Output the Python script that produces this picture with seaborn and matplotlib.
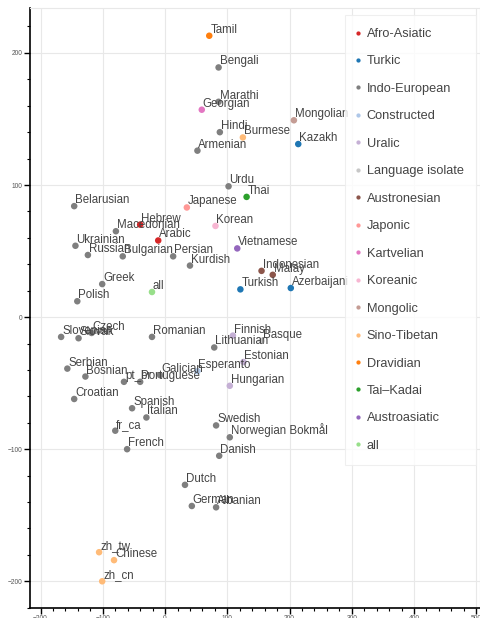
import matplotlib
matplotlib.use('Agg')
import matplotlib.pyplot as plt
import pandas as pd
import seaborn as sns

# Data
names = [
  'Tamil', 'Bengali', 'Marathi', 'Georgian', 'Hindi', 'Armenian', 'Burmese',
  'Mongolian', 'Kazakh', 'Urdu', 'Thai', 'Japanese', 'Korean', 'Vietnamese',
  'Kurdish', 'Indonesian', 'Malay', 'Turkish', 'Azerbaijani', 'Belarusian',
  'Macedonian', 'Hebrew', 'Arabic', 'Ukrainian', 'Russian', 'Bulgarian',
  'Persian', 'Greek', 'all', 'Polish', 'Slovenian', 'Slovak', 'Czech',
  'Romanian', 'Lithuanian', 'Finnish', 'Basque', 'Estonian', 'Esperanto',
  'Galician', 'pt_br', 'Portuguese', 'Hungarian', 'Serbian', 'Bosnian',
  'Croatian', 'Spanish', 'Italian', 'fr_ca', 'French', 'Swedish',
  'Norwegian Bokmål', 'Danish', 'Dutch', 'German', 'Albanian', 'zh_tw',
  'Chinese', 'zh_cn'
]
x_vals = [
  71, 86, 86, 59, 88, 52, 125, 207, 214, 102, 131, 35, 81, 116, 40, 155, 173,
  121, 202, -146, -79, -40, -11, -144, -124, -68, 13, -101, -21, -141, -167,
  -139, -118, -21, 79, 109, 155, 126, 52, -8, -66, -40, 104, -157, -128, -146,
  -53, -30, -80, -61, 82, 104, 87, 32, 43, 82, -106, -82, -101
]
y_vals = [
  213, 189, 163, 157, 140, 126, 136, 149, 131, 99, 91, 83, 69, 52, 39, 35, 32,
  21, 22, 84, 65, 70, 58, 54, 47, 46, 46, 25, 19, 12, -15, -16, -12, -15, -23,
  -14, -18, -34, -41, -44, -49, -49, -52, -39, -45, -62, -69, -76, -86, -100,
  -82, -91, -105, -127, -143, -144, -178, -184, -200
]
families = [
  'Dravidian', 'Indo-European', 'Indo-European', 'Kartvelian',
  'Indo-European', 'Indo-European', 'Sino-Tibetan', 'Mongolic', 'Turkic',
  'Indo-European', 'Tai–Kadai', 'Japonic', 'Koreanic', 'Austroasiatic',
  'Indo-European', 'Austronesian', 'Austronesian', 'Turkic', 'Turkic',
  'Indo-European', 'Indo-European', 'Afro-Asiatic', 'Afro-Asiatic',
  'Indo-European', 'Indo-European', 'Indo-European', 'Indo-European',
  'Indo-European', 'all', 'Indo-European', 'Indo-European', 'Indo-European',
  'Indo-European', 'Indo-European', 'Indo-European', 'Uralic',
  'Language isolate', 'Uralic', 'Constructed', 'Indo-European',
  'Indo-European', 'Indo-European', 'Uralic', 'Indo-European',
  'Indo-European', 'Indo-European', 'Indo-European', 'Indo-European',
  'Indo-European', 'Indo-European', 'Indo-European', 'Indo-European',
  'Indo-European', 'Indo-European', 'Indo-European', 'Indo-European',
  'Sino-Tibetan', 'Sino-Tibetan', 'Sino-Tibetan'
]
family_order = [
  'Afro-Asiatic', 'Turkic', 'Indo-European', 'Constructed', 'Uralic',
  'Language isolate', 'Austronesian', 'Japonic', 'Kartvelian', 'Koreanic',
  'Mongolic', 'Sino-Tibetan', 'Dravidian', 'Tai–Kadai', 'Austroasiatic', 'all'
]
family_colors = [
  '#d62728', '#1f77b4', '#7f7f7f', '#aec7e8', '#c5b0d5', '#c7c7c7',
  '#8c564b', '#ff9896', '#e377c2', '#f7b6d2', '#c49c94', '#ffbb78',
  '#ff7f0e', '#2ca02c', '#9467bd', '#98df8a'
]

df = pd.DataFrame({'name': names, 'x': x_vals, 'y': y_vals,
                   'family': families})

sns.set_style('whitegrid')
plt.rcParams['font.family'] = ['Liberation Sans', 'DejaVu Sans']

fig = plt.figure(figsize=(4.81, 6.18), dpi=100)
ax = fig.add_axes([30 / 481, 10.3 / 618, 450 / 481, 599.7 / 618])

sns.scatterplot(data=df, x='x', y='y', hue='family', hue_order=family_order,
                palette=dict(zip(family_order, family_colors)), s=22,
                linewidth=0, ax=ax, zorder=3)

# point labels, just above and right of each dot
for _, row in df.iterrows():
  ax.annotate(row['name'], (row['x'], row['y']), xytext=(1, 3),
              textcoords='offset pixels', fontsize=8.3, color='#444444',
              va='baseline', ha='left', zorder=4)

ax.set_xlim(-217, 506)
ax.set_ylim(-220, 234)
ax.set_xticks([-200, -100, 0, 100, 200, 300, 400, 500])
ax.set_yticks([-200, -100, 0, 100, 200])
ax.set_xticks(range(-200, 501, 20), minor=True)
ax.set_yticks(range(-220, 234, 20), minor=True)
ax.set_xlabel('')
ax.set_ylabel('')
ax.grid(True, which='major', color='#e8e8e8', linewidth=0.8)
ax.grid(False, which='minor')
ax.tick_params(axis='both', which='major', direction='out', length=4,
               width=1, color='black', labelsize=4.8, labelcolor='#555555',
               pad=1.5)
ax.tick_params(axis='both', which='minor', direction='out', length=2.5,
               width=0.8, color='black')
ax.tick_params(bottom=True, left=True, which='both')
for side in ['left', 'bottom']:
  ax.spines[side].set_color('black')
  ax.spines[side].set_linewidth(1.2)
for side in ['top', 'right']:
  ax.spines[side].set_color('#e8e8e8')
  ax.spines[side].set_linewidth(0.8)

leg = ax.legend(loc='upper left', bbox_to_anchor=(0.7, 0.988),
                borderaxespad=0, fontsize=9.2, labelspacing=1.21,
                handletextpad=0.6, handlelength=0.1, borderpad=1.0,
                frameon=True, fancybox=False, markerscale=0.65)
leg.get_frame().set_edgecolor('#ececec')
leg.get_frame().set_linewidth(0.8)
for t in leg.get_texts():
  t.set_color('#444444')

fig.savefig('out.png', dpi=100)
